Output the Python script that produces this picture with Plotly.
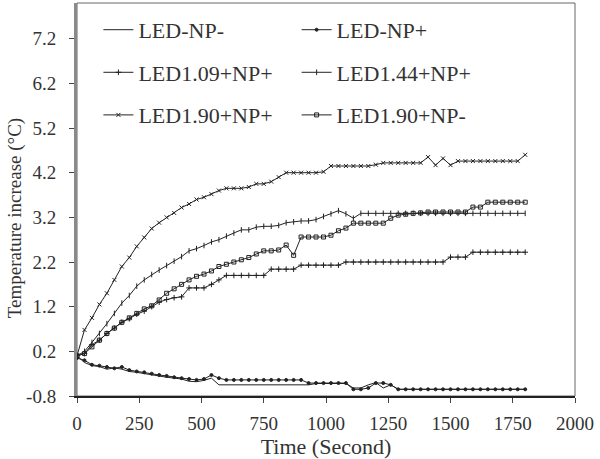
import plotly.graph_objects as go

time_s = list(range(0, 1801, 30))

led_np_minus = [0.1, -0.05, -0.12, -0.14, -0.2, -0.17, -0.2, -0.25, -0.27, -0.3,
                -0.33, -0.35, -0.38, -0.4, -0.42, -0.47, -0.48, -0.45, -0.4, -0.55,
                -0.55, -0.55, -0.55, -0.55, -0.55, -0.55, -0.55, -0.55, -0.55, -0.55,
                -0.55, -0.55, -0.52, -0.52, -0.52, -0.52, -0.52, -0.62, -0.62, -0.55,
                -0.5, -0.62, -0.55, -0.65, -0.65, -0.65, -0.65, -0.65, -0.65, -0.65,
                -0.65, -0.65, -0.65, -0.65, -0.65, -0.65, -0.65, -0.65, -0.65, -0.65, -0.65]

led_np_plus = [0.05, 0.0, -0.1, -0.12, -0.15, -0.18, -0.15, -0.22, -0.25, -0.27,
               -0.3, -0.33, -0.35, -0.38, -0.4, -0.42, -0.44, -0.42, -0.33, -0.4,
               -0.44, -0.44, -0.44, -0.44, -0.44, -0.44, -0.44, -0.44, -0.44, -0.44,
               -0.44, -0.51, -0.51, -0.51, -0.51, -0.51, -0.51, -0.65, -0.65, -0.62,
               -0.51, -0.51, -0.55, -0.65, -0.65, -0.65, -0.65, -0.65, -0.65, -0.65,
               -0.65, -0.65, -0.65, -0.65, -0.65, -0.65, -0.65, -0.65, -0.65, -0.65, -0.65]

led109_np_plus = [0.1, 0.15, 0.35, 0.45, 0.6, 0.72, 0.85, 0.93, 1.03, 1.1,
                  1.2, 1.3, 1.36, 1.4, 1.42, 1.62, 1.62, 1.62, 1.7, 1.8,
                  1.9, 1.9, 1.9, 1.9, 1.9, 1.9, 2.04, 2.04, 2.04, 2.04,
                  2.13, 2.13, 2.13, 2.13, 2.13, 2.13, 2.2, 2.2, 2.2, 2.2,
                  2.2, 2.2, 2.2, 2.2, 2.2, 2.2, 2.2, 2.2, 2.2, 2.2,
                  2.31, 2.31, 2.31, 2.42, 2.42, 2.42, 2.42, 2.42, 2.42, 2.42, 2.42]

led144_np_plus = [0.1, 0.2, 0.4, 0.6, 0.82, 1.05, 1.28, 1.45, 1.66, 1.8,
                  1.92, 2.02, 2.12, 2.22, 2.32, 2.45, 2.5, 2.57, 2.65, 2.7,
                  2.78, 2.85, 2.92, 2.92, 2.98, 3.0, 3.0, 3.02, 3.08, 3.1,
                  3.12, 3.12, 3.15, 3.22, 3.28, 3.35, 3.28, 3.18, 3.29, 3.29,
                  3.29, 3.29, 3.29, 3.29, 3.29, 3.29, 3.29, 3.29, 3.29, 3.29,
                  3.29, 3.29, 3.29, 3.29, 3.29, 3.29, 3.29, 3.29, 3.29, 3.29, 3.29]

led190_np_plus = [0.1, 0.68, 0.95, 1.25, 1.5, 1.8, 2.1, 2.3, 2.55, 2.75,
                  2.95, 3.08, 3.2, 3.3, 3.42, 3.5, 3.6, 3.65, 3.72, 3.8,
                  3.85, 3.85, 3.85, 3.88, 3.95, 3.95, 4.0, 4.1, 4.2, 4.2,
                  4.2, 4.2, 4.2, 4.22, 4.35, 4.35, 4.35, 4.35, 4.35, 4.35,
                  4.38, 4.42, 4.42, 4.42, 4.42, 4.42, 4.42, 4.55, 4.37, 4.52,
                  4.37, 4.46, 4.46, 4.46, 4.46, 4.46, 4.46, 4.46, 4.46, 4.46, 4.6]

led190_np_minus = [0.1, 0.15, 0.3, 0.45, 0.6, 0.72, 0.85, 0.95, 1.05, 1.15,
                   1.22, 1.35, 1.5, 1.6, 1.7, 1.8, 1.88, 1.93, 2.0, 2.1,
                   2.15, 2.2, 2.25, 2.3, 2.38, 2.45, 2.45, 2.47, 2.58, 2.35,
                   2.76, 2.76, 2.76, 2.76, 2.8, 2.9, 2.96, 3.07, 3.07, 3.07,
                   3.07, 3.07, 3.18, 3.25, 3.27, 3.29, 3.3, 3.32, 3.32, 3.32,
                   3.32, 3.32, 3.32, 3.43, 3.43, 3.54, 3.54, 3.54, 3.54, 3.54, 3.54]

x_ticks = [0, 250, 500, 750, 1000, 1250, 1500, 1750, 2000]
y_ticks = [-0.8, 0.2, 1.2, 2.2, 3.2, 4.2, 5.2, 6.2, 7.2]

series = [
    ("LED-NP-", led_np_minus, None, "legend"),
    ("LED1.09+NP+", led109_np_plus, "cross-thin-open", "legend"),
    ("LED1.90+NP+", led190_np_plus, "x-thin-open", "legend"),
    ("LED-NP+", led_np_plus, "circle", "legend2"),
    ("LED1.44+NP+", led144_np_plus, "line-ns-open", "legend2"),
    ("LED1.90+NP-", led190_np_minus, "square-open", "legend2"),
]

line_color = "#222222"
fig = go.Figure()
for i, (name, vals, sym, leg) in enumerate(series):
    if sym is None:
        mode = "lines"
        marker = None
    else:
        mode = "lines+markers"
        size = 3 if sym == "circle" else 4
        marker = dict(symbol=sym, size=size, color=line_color,
                      line=dict(color=line_color, width=1))
    fig.add_trace(go.Scatter(
        x=time_s, y=vals, name=name, mode=mode, marker=marker,
        line=dict(color=line_color, width=1),
        legend=leg, legendgroup=name,
    ))

font_family = "Liberation Serif, Times New Roman, serif"
legend_common = dict(
    bgcolor="rgba(0,0,0,0)", borderwidth=0, tracegroupgap=11,
    font=dict(family=font_family, size=22, color="#333333"),
    itemwidth=30, xanchor="left", yanchor="top",
)

fig.update_layout(
    width=600, height=459,
    margin=dict(l=77, r=25, t=3, b=63, autoexpand=False),
    plot_bgcolor="white", paper_bgcolor="white",
    font=dict(family=font_family, size=19, color="#333333"),
    legend=dict(x=0.043, y=0.985, **legend_common),
    legend2=dict(x=0.441, y=0.985, **legend_common),
    xaxis=dict(
        range=[0, 2000], tickmode="array", tickvals=x_ticks,
        ticktext=[str(v) for v in x_ticks],
        showgrid=False, zeroline=False, automargin=False,
        showline=True, linecolor="#222222", linewidth=1.5,
        ticks="outside", ticklen=5, tickcolor="#444444",
        tickfont=dict(size=19), mirror=False, ticklabelstandoff=4,
        title=dict(text="Time (Second)", font=dict(size=22), standoff=3),
    ),
    yaxis=dict(
        range=[-0.8, 8.0], tickmode="array", tickvals=y_ticks,
        ticktext=[f"{v:.1f}" for v in y_ticks],
        showgrid=False, zeroline=False, automargin=False,
        showline=True, linecolor="#8a8a8a", linewidth=3,
        ticks="outside", ticklen=5, tickcolor="#444444",
        tickfont=dict(size=19), ticklabelstandoff=9,
    ),
    annotations=[dict(
        text="Temperature increase (°C)", textangle=-90,
        xref="paper", yref="paper", x=-0.124, y=0.453,
        xanchor="center", yanchor="middle", showarrow=False,
        font=dict(size=19, family=font_family, color="#333333"),
    )],
    showlegend=True,
)

# top and right frame
fig.add_shape(type="rect", xref="paper", yref="paper", x0=0, y0=0, x1=1, y1=1,
              line=dict(color="#666666", width=1), layer="below")

fig.write_html("out.html", config={"displayModeBar": False},
               post_script="document.body.style.margin='0';")
